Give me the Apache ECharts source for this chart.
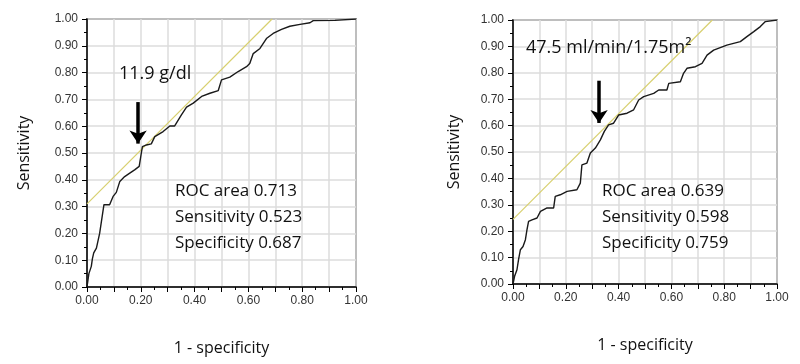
<!DOCTYPE html>
<html>
<head>
<meta charset="utf-8">
<script src="https://cdn.jsdelivr.net/npm/echarts@6/dist/echarts.min.js"></script>
<style>
  html, body { margin: 0; padding: 0; background: #fff; }
  #chart { width: 800px; height: 364px; }
</style>
</head>
<body>
<div id="chart"></div>
<script>
// ROC curve, haemoglobin (left)
var rocHb = [
  [0, 0], [0.007, 0.05], [0.016, 0.077], [0.02, 0.105], [0.025, 0.127], [0.035, 0.145],
  [0.04, 0.147], [0.047, 0.2], [0.063, 0.307], [0.084, 0.307], [0.097, 0.338],
  [0.109, 0.353], [0.122, 0.394], [0.14, 0.412], [0.159, 0.425], [0.177, 0.437],
  [0.194, 0.45], [0.202, 0.5], [0.206, 0.524], [0.221, 0.53], [0.239, 0.534],
  [0.252, 0.561], [0.283, 0.58], [0.308, 0.601], [0.326, 0.601], [0.351, 0.642],
  [0.37, 0.671], [0.395, 0.686], [0.426, 0.711], [0.457, 0.723], [0.488, 0.733],
  [0.5, 0.773], [0.531, 0.783], [0.562, 0.804], [0.593, 0.822], [0.605, 0.834],
  [0.618, 0.871], [0.643, 0.89], [0.667, 0.927], [0.692, 0.946], [0.723, 0.961],
  [0.754, 0.973], [0.792, 0.98], [0.829, 0.986], [0.841, 0.994], [0.922, 0.995], [1, 1]
];
// ROC curve, eGFR (right)
var rocGfr = [
  [0, 0], [0.006, 0.029], [0.015, 0.054], [0.021, 0.092], [0.028, 0.13], [0.038, 0.142],
  [0.047, 0.168], [0.053, 0.206], [0.059, 0.237], [0.072, 0.243], [0.091, 0.25],
  [0.104, 0.275], [0.129, 0.288], [0.154, 0.288], [0.16, 0.332], [0.179, 0.338],
  [0.205, 0.351], [0.242, 0.357], [0.255, 0.382], [0.261, 0.451], [0.28, 0.458],
  [0.293, 0.496], [0.312, 0.515], [0.331, 0.546], [0.346, 0.578], [0.362, 0.603],
  [0.381, 0.609], [0.4, 0.64], [0.432, 0.647], [0.457, 0.66], [0.476, 0.697],
  [0.495, 0.71], [0.533, 0.722], [0.552, 0.735], [0.583, 0.735], [0.59, 0.76],
  [0.634, 0.766], [0.646, 0.798], [0.659, 0.817], [0.691, 0.823], [0.716, 0.836],
  [0.735, 0.867], [0.76, 0.886], [0.81, 0.905], [0.861, 0.918], [0.886, 0.937],
  [0.912, 0.956], [0.937, 0.975], [0.956, 0.994], [0.96, 1], [1, 1]
];
// yellow tangent lines
var tangentHb = [[0, 0.31], [0.688, 1]];
var tangentGfr = [[0, 0.245], [0.755, 1]];
// arrows: [x, yStart, yTip]
var arrowHb = [0.19, 0.69, 0.535];
var arrowGfr = [0.326, 0.77, 0.61];

var cutoffHb = "11.9 g/dl";
var cutoffGfr = "47.5 ml/min/1.75m²";
var statsHb = ["ROC area 0.713", "Sensitivity 0.523", "Specificity 0.687"];
var statsGfr = ["ROC area 0.639", "Sensitivity 0.598", "Specificity 0.759"];

var grids = [
  { left: 87, top: 19, width: 269, height: 268 },
  { left: 513, top: 20, width: 264, height: 264 }
];

function fmt2(v) { return v.toFixed(2); }

function xAxisOf(i) {
  return {
    type: "value", gridIndex: i, min: 0, max: 1, interval: 0.1,
    name: "1 - specificity", nameLocation: "middle", nameGap: 53,
    nameTextStyle: { fontFamily: "Open Sans", fontSize: 16, color: "#111" },
    axisLine: { show: true, onZero: false, lineStyle: { color: "#000", width: 1.5 } },
    axisTick: { show: true, length: 5, lineStyle: { color: "#000" } },
    minorTick: { show: true, splitNumber: 2, length: 3, lineStyle: { color: "#000" } },
    splitLine: { show: true, lineStyle: { color: "#dcdcdc", width: 1.5 } },
    axisLabel: {
      fontFamily: "Liberation Sans", fontSize: 12, color: "#333", margin: 8,
      formatter: function (v) {
        return Math.round(v * 10) % 2 === 0 ? fmt2(v) : "";
      }
    }
  };
}
function yAxisOf(i, gap) {
  return {
    type: "value", gridIndex: i, min: 0, max: 1, interval: 0.1,
    name: "Sensitivity", nameLocation: "middle", nameGap: gap,
    nameTextStyle: { fontFamily: "Open Sans", fontSize: 16, color: "#111" },
    axisLine: { show: true, onZero: false, lineStyle: { color: "#000", width: 1.5 } },
    axisTick: { show: true, length: 5, lineStyle: { color: "#000" } },
    minorTick: { show: true, splitNumber: 2, length: 3, lineStyle: { color: "#000" } },
    splitLine: { show: true, lineStyle: { color: "#dcdcdc", width: 1.5 } },
    axisLabel: {
      fontFamily: "Liberation Sans", fontSize: 12, color: "#333", margin: 9,
      formatter: fmt2
    }
  };
}

function curve(data, i) {
  return {
    type: "line", xAxisIndex: i, yAxisIndex: i, data: data, showSymbol: false,
    lineStyle: { color: "#1a1a1a", width: 1.4 }, z: 4, silent: true
  };
}
function tangent(data, i) {
  return {
    type: "line", xAxisIndex: i, yAxisIndex: i, data: data, showSymbol: false,
    lineStyle: { color: "#d8d070", width: 1.2 }, z: 3, silent: true
  };
}
function arrow(a, i) {
  return {
    type: "line", xAxisIndex: i, yAxisIndex: i, data: [], silent: true,
    markLine: {
      silent: true, symbol: ["none", "arrow"], symbolSize: [13, 13],
      label: { show: false },
      lineStyle: { color: "#000", width: 3.5, type: "solid" },
      data: [[{ coord: [a[0], a[1]] }, { coord: [a[0], a[2]] }]]
    }
  };
}

function textBlock(x, y, lines) {
  return lines.map(function (s, k) {
    return {
      type: "text", left: x, top: y + k * 26, z: 100,
      style: { text: s, font: "17px 'Open Sans'", fill: "#111" }
    };
  });
}

var chart = echarts.init(document.getElementById("chart"));
chart.setOption({
  animation: false,
  grid: grids.map(function (g) {
    return Object.assign({ show: true, borderColor: "#333", borderWidth: 1.5, backgroundColor: "transparent" }, g);
  }),
  xAxis: [xAxisOf(0), xAxisOf(1)],
  yAxis: [yAxisOf(0, 55), yAxisOf(1, 51)],
  series: [
    tangent(tangentHb, 0), curve(rocHb, 0), arrow(arrowHb, 0),
    tangent(tangentGfr, 1), curve(rocGfr, 1), arrow(arrowGfr, 1)
  ],
  graphic: [
    { type: "text", left: 119, top: 65, z: 100, style: { text: cutoffHb, font: "18px 'Open Sans'", fill: "#111" } },
    { type: "text", left: 526, top: 39, z: 100, style: { text: cutoffGfr, font: "18px 'Open Sans'", fill: "#111" } }
  ].concat(textBlock(175, 183, statsHb), textBlock(602, 183, statsGfr))
});
</script>
</body>
</html>
